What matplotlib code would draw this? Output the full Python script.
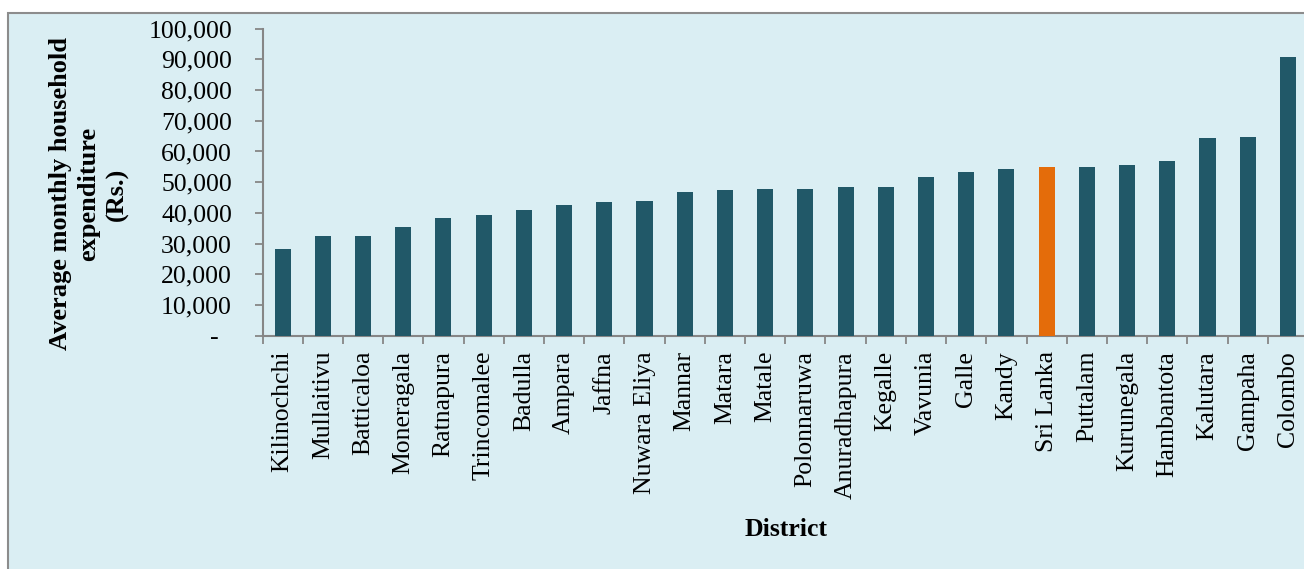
import matplotlib
matplotlib.use("Agg")
import matplotlib.pyplot as plt
from matplotlib.patches import Rectangle
from matplotlib.ticker import FixedLocator

districts = ["Kilinochchi", "Mullaitivu", "Batticaloa", "Moneragala", "Ratnapura",
             "Trincomalee", "Badulla", "Ampara", "Jaffna", "Nuwara Eliya", "Mannar",
             "Matara", "Matale", "Polonnaruwa", "Anuradhapura", "Kegalle", "Vavunia",
             "Galle", "Kandy", "Sri Lanka", "Puttalam", "Kurunegala", "Hambantota",
             "Kalutara", "Gampaha", "Colombo"]
expenditure = [28400, 32400, 32600, 35400, 38500, 39200, 41100, 42500, 43500, 43900,
               46700, 47300, 47700, 47800, 48300, 48400, 51700, 53300, 54400, 54900,
               54900, 55600, 56900, 64300, 64600, 90800]
highlight = "Sri Lanka"
yticks = [0, 10000, 20000, 30000, 40000, 50000, 60000, 70000, 80000, 90000, 100000]
ytick_labels = ["-  ", "10,000", "20,000", "30,000", "40,000", "50,000", "60,000",
                "70,000", "80,000", "90,000", "100,000"]

W, H = 1304, 569
fig = plt.figure(figsize=(W / 100, H / 100), dpi=100)
fig.patch.set_facecolor("white")

# outer chart-area frame
fig.patches.append(Rectangle((8 / W, -0.05), 1.2, 1 - 13 / H + 0.05,
                             transform=fig.transFigure, facecolor="#DAEEF3",
                             edgecolor="#8C8C8C", linewidth=1.5, zorder=-10))

ax_left, ax_right = 262.5 / W, 1308 / W
ax_bottom, ax_top = 1 - 335.7 / H, 1 - 28.7 / H
ax = fig.add_axes([ax_left, ax_bottom, ax_right - ax_left, ax_top - ax_bottom])
ax.set_facecolor("none")

x = list(range(len(districts)))
colors = ["#E46C0A" if d == highlight else "#215868" for d in districts]
ax.bar(x, expenditure, width=0.4, color=colors, zorder=3)

ax.set_xlim(-0.5, len(districts) - 0.5)
ax.set_ylim(0, 100000)

serif = ["Liberation Serif", "DejaVu Serif"]
ax.set_yticks(yticks)
ax.set_yticklabels(ytick_labels, family=serif, fontsize=18.5)
ax.set_xticks(x)
ax.set_xticklabels(districts, rotation=90, family=serif, fontsize=18.5)
ax.xaxis.set_minor_locator(FixedLocator([i - 0.5 for i in range(len(districts) + 1)]))

ax.tick_params(axis="x", which="major", length=0, pad=11)
ax.tick_params(axis="x", which="minor", length=5.5, width=1.3, color="#868686", direction="out")
ax.tick_params(axis="y", which="major", length=6, width=1.3, color="#868686", pad=16)

for s in ["top", "right"]:
    ax.spines[s].set_visible(False)
for s in ["left", "bottom"]:
    ax.spines[s].set_color("#868686")
    ax.spines[s].set_linewidth(1.5)

fig.text(89 / W, 1 - 194 / H,
         "Average monthly household\nexpenditure\n(Rs.)",
         rotation=90, ha="center", va="center", multialignment="center",
         family=serif, fontsize=19, fontweight="bold", linespacing=1.3)
fig.text(786 / W, 1 - 530 / H, "District", ha="center", va="center",
         family=serif, fontsize=18.5, fontweight="bold")

fig.savefig("out.png", dpi=100)
